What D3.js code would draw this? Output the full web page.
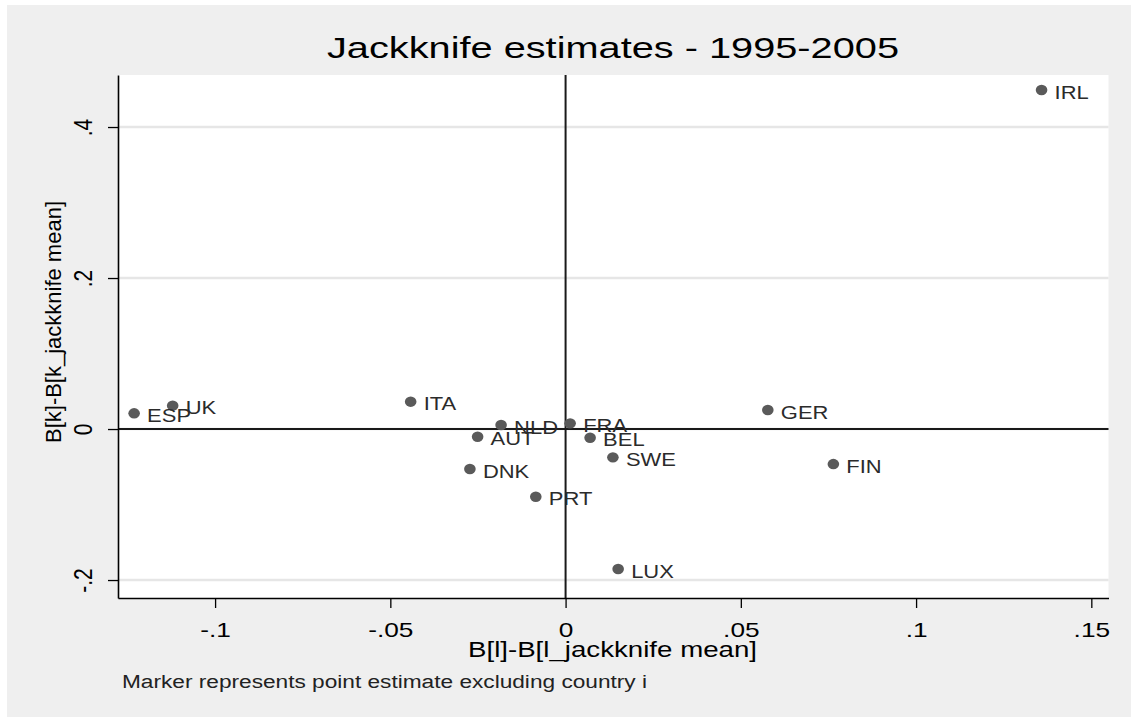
<!DOCTYPE html>
<html>
<head>
<meta charset="utf-8">
<script src="https://cdn.jsdelivr.net/npm/d3@7"></script>
<style>
  html, body { margin: 0; padding: 0; background: #ffffff; }
  svg { display: block; }
  text { font-family: "Liberation Sans", Arial, Helvetica, sans-serif; }
</style>
</head>
<body>
<script>
// Country codes and their jackknife deviations (excluding country i)
const countries = ["ESP", "UK", "ITA", "NLD", "AUT", "DNK", "PRT", "FRA", "BEL", "SWE", "LUX", "GER", "FIN", "IRL"];
const bLDev = [-0.1231, -0.1121, -0.0442, -0.0184, -0.0251, -0.0273, -0.0085, 0.0013, 0.0070, 0.0135, 0.0150, 0.0577, 0.0764, 0.1358];
const bKDev = [0.0208, 0.0309, 0.0362, 0.0053, -0.0102, -0.0530, -0.0897, 0.0075, -0.0115, -0.0375, -0.1854, 0.0252, -0.0464, 0.4490];

const xTicks = [-0.1, -0.05, 0, 0.05, 0.1, 0.15];
const yTicks = [-0.2, 0, 0.2, 0.4];

const titleText = "Jackknife estimates - 1995-2005";
const xTitle = "B[l]-B[l_jackknife mean]";
const yTitle = "B[k]-B[k_jackknife mean]";
const noteText = "Marker represents point estimate excluding country i";

const W = 1131, H = 717;
const plot = { left: 118, right: 1108.5, top: 75, bottom: 598 };

const svg = d3.select("body").append("svg").attr("width", W).attr("height", H);

// outer graph region
svg.append("rect").attr("width", W).attr("height", H).attr("fill", "#ffffff");
svg.append("rect").attr("x", 7).attr("y", 5).attr("width", W - 7).attr("height", H - 5).attr("fill", "#efefef");

const x = d3.scaleLinear().domain([-0.1277, 0.1549]).range([plot.left, plot.right]);
const y = d3.scaleLinear().domain([-0.2238, 0.4689]).range([plot.bottom, plot.top]);

// plot region
svg.append("rect")
  .attr("x", plot.left).attr("y", plot.top)
  .attr("width", plot.right - plot.left).attr("height", plot.bottom - plot.top)
  .attr("fill", "#ffffff");

// horizontal grid lines
svg.append("g").selectAll("line").data(yTicks).join("line")
  .attr("x1", plot.left).attr("x2", plot.right)
  .attr("y1", d => y(d)).attr("y2", d => y(d))
  .attr("stroke", "#e6e6e6").attr("stroke-width", 2.5);

// reference lines at zero
svg.append("line")
  .attr("x1", plot.left).attr("x2", plot.right)
  .attr("y1", y(0)).attr("y2", y(0))
  .attr("stroke", "#1a1a1a").attr("stroke-width", 2);
svg.append("line")
  .attr("x1", x(0)).attr("x2", x(0))
  .attr("y1", plot.top).attr("y2", plot.bottom)
  .attr("stroke", "#1a1a1a").attr("stroke-width", 2);

// Stata-style tick labels: drop the leading zero
const fmt = d => d === 0 ? "0" : String(+d.toFixed(2)).replace(/^(-?)0\./, "$1.");

const xAxis = svg.append("g")
  .attr("transform", `translate(0,${plot.bottom})`)
  .call(d3.axisBottom(x).tickValues(xTicks).tickSize(10).tickSizeOuter(0).tickFormat(fmt));
xAxis.select(".domain").attr("stroke", "#000").attr("stroke-width", 1.6);
xAxis.selectAll(".tick line").attr("stroke", "#000").attr("stroke-width", 1.3);
xAxis.selectAll(".tick text")
  .attr("y", 0).attr("dy", null)
  .attr("transform", "translate(0,39) scale(1.25,1)")
  .attr("fill", "#000")
  .style("font-size", "21px");

const yAxis = svg.append("g")
  .attr("transform", `translate(${plot.left},0)`)
  .call(d3.axisLeft(y).tickValues(yTicks).tickSize(10).tickSizeOuter(0).tickFormat(fmt));
yAxis.select(".domain").attr("stroke", "#000").attr("stroke-width", 1.6);
yAxis.selectAll(".tick line").attr("stroke", "#000").attr("stroke-width", 1.3);
yAxis.selectAll(".tick text")
  .attr("x", 0).attr("y", 0).attr("dy", null)
  .attr("text-anchor", "middle")
  .attr("transform", "translate(-26,0) scale(1.2,1) rotate(-90)")
  .attr("fill", "#000")
  .style("font-size", "21px");

// markers
const pts = countries.map((c, i) => ({ name: c, bl: bLDev[i], bk: bKDev[i] }));
svg.append("g").selectAll("ellipse").data(pts).join("ellipse")
  .attr("cx", d => x(d.bl)).attr("cy", d => y(d.bk))
  .attr("rx", 5.8).attr("ry", 5.2)
  .attr("fill", "#5a5a5a");

// marker labels at 3 o'clock
svg.append("g").selectAll("text").data(pts).join("text")
  .attr("transform", d => `translate(${x(d.bl) + 13},${y(d.bk) + 8.5}) scale(1.22,1)`)
  .attr("fill", "#2b2b2b")
  .style("font-size", "18px")
  .text(d => d.name);

// title
svg.append("text")
  .attr("x", 613).attr("y", 58)
  .attr("text-anchor", "middle")
  .attr("textLength", 572).attr("lengthAdjust", "spacingAndGlyphs")
  .attr("fill", "#000")
  .style("font-size", "30px")
  .text(titleText);

// axis titles
svg.append("text")
  .attr("x", 612.5).attr("y", 657)
  .attr("text-anchor", "middle")
  .attr("textLength", 289).attr("lengthAdjust", "spacingAndGlyphs")
  .attr("fill", "#000")
  .style("font-size", "22px")
  .text(xTitle);

svg.append("text")
  .attr("transform", "translate(61,322) rotate(-90)")
  .attr("text-anchor", "middle")
  .attr("textLength", 242).attr("lengthAdjust", "spacingAndGlyphs")
  .attr("fill", "#000")
  .style("font-size", "22px")
  .text(yTitle);

// note
svg.append("text")
  .attr("x", 122).attr("y", 688)
  .attr("textLength", 525).attr("lengthAdjust", "spacingAndGlyphs")
  .attr("fill", "#222")
  .style("font-size", "18px")
  .text(noteText);
</script>
</body>
</html>
